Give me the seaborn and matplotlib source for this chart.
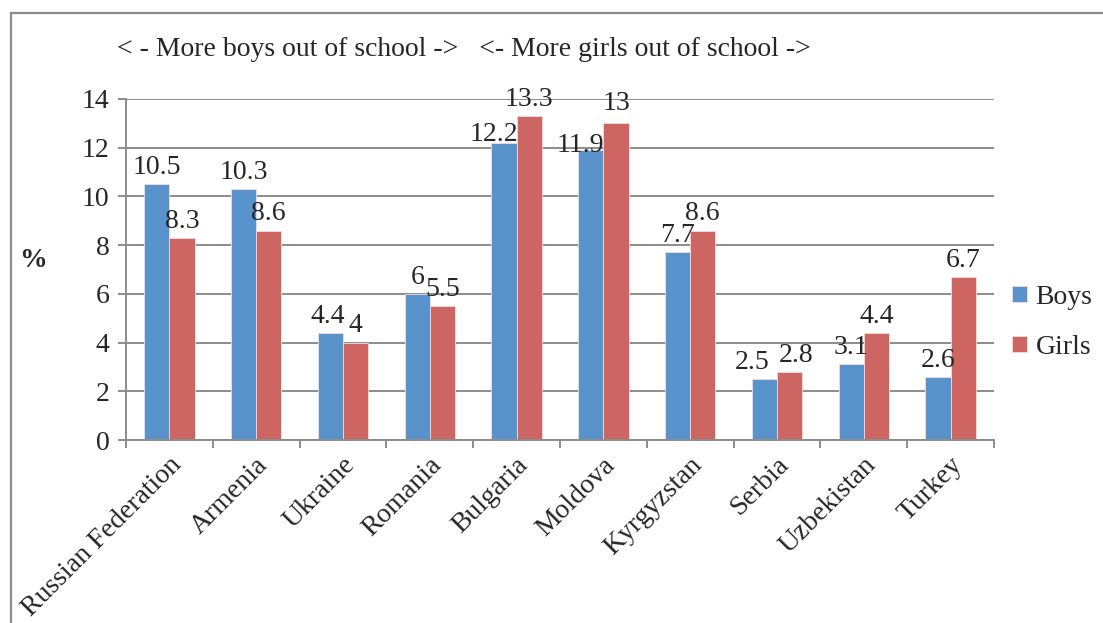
import numpy as np
import pandas as pd
import matplotlib
matplotlib.use("Agg")
import matplotlib.pyplot as plt
import matplotlib.transforms as mtransforms
from matplotlib.patches import Rectangle
import seaborn as sns

countries = ["Russian Federation", "Armenia", "Ukraine", "Romania", "Bulgaria",
             "Moldova", "Kyrgyzstan", "Serbia", "Uzbekistan", "Turkey"]
boys = [10.5, 10.3, 4.4, 6.0, 12.2, 11.9, 7.7, 2.5, 3.1, 2.6]
girls = [8.3, 8.6, 4.0, 5.5, 13.3, 13.0, 8.6, 2.8, 4.4, 6.7]
boys_text = ["10.5", "10.3", "4.4", "6", "12.2", "11.9", "7.7", "2.5", "3.1", "2.6"]
girls_text = ["8.3", "8.6", "4", "5.5", "13.3", "13", "8.6", "2.8", "4.4", "6.7"]
yticks = [0, 2, 4, 6, 8, 10, 12, 14]
title = "< - More boys out of school ->   <- More girls out of school ->"

df = pd.DataFrame({
    "country": countries * 2,
    "value": boys + girls,
    "sex": ["Boys"] * len(countries) + ["Girls"] * len(countries),
})

sns.set_theme(style="white")
plt.rcParams["font.family"] = ["Liberation Serif", "DejaVu Serif"]

blue = "#5893CC"
red = "#CD6662"
grid_c = "#8C8C8C"
fs = 20

fig = plt.figure(figsize=(11.03, 6.23), dpi=100)
ax = fig.add_axes([126 / 1103, 1 - 440 / 623, (994 - 126) / 1103, (440 - 99) / 623])

sns.barplot(data=df, x="country", y="value", hue="sex", order=countries,
            hue_order=["Boys", "Girls"], palette=[blue, red], saturation=1,
            width=0.58, gap=0, edgecolor="#F4DCDC", linewidth=0.6, ax=ax,
            legend=True)

ax.set_ylim(0, 14)
ax.set_xlim(-0.5, len(countries) - 0.5)
ax.set_yticks(yticks)
ax.set_yticklabels([str(t) for t in yticks], fontsize=fs)
ax.yaxis.grid(True, color=grid_c, linewidth=1.4)
ax.set_axisbelow(True)
for s in ["top", "right"]:
    ax.spines[s].set_visible(False)
for s in ["left", "bottom"]:
    ax.spines[s].set_color(grid_c)
    ax.spines[s].set_linewidth(1.4)
ax.tick_params(axis="y", which="major", length=6, width=1.4, color=grid_c,
               left=True, pad=6)

ax.set_xticks(np.arange(len(countries)))
ax.set_xticks(np.arange(-0.5, len(countries)), minor=True)
ax.tick_params(axis="x", which="major", length=0, pad=6)
ax.tick_params(axis="x", which="minor", length=6, width=1.4, color=grid_c, bottom=True)
offset = mtransforms.ScaledTranslation(8 / 100, -13 / 100, fig.dpi_scale_trans)
ax.set_xticklabels(countries, rotation=45, ha="right", va="center",
                   rotation_mode="anchor", fontsize=fs)
for lab in ax.get_xticklabels():
    lab.set_transform(lab.get_transform() + offset)

ax.set_xlabel("")
ax.set_ylabel("%", fontsize=fs, fontweight="bold", rotation=0, labelpad=0)
ax.yaxis.set_label_coords(-0.107, 0.49)

# data labels, with the small shifts (px) the original applied to avoid overlaps
shift = {("Boys", 4): (-10, -8), ("Boys", 5): (-10, -12), ("Girls", 5): (0, 3),
         ("Boys", 7): (-12, 0), ("Girls", 7): (6, 0), ("Boys", 2): (-3, 0)}
for i, c in enumerate(countries):
    for sex, vals, txt, dx in (("Boys", boys, boys_text, -0.145),
                              ("Girls", girls, girls_text, 0.145)):
        sx, sy = shift.get((sex, i), (0, 0))
        ax.annotate(txt[i], (i + dx, vals[i]), xytext=(sx * 0.72, 3 + sy * 0.72),
                    textcoords="offset points", ha="center", va="bottom",
                    fontsize=fs)

leg = ax.legend(loc="center left", bbox_to_anchor=(1.0, 0.345), frameon=False,
                fontsize=fs, handlelength=0.55, handleheight=0.55,
                labelspacing=0.9, handletextpad=0.3, borderaxespad=0.25)

fig.text(117 / 1103, 1 - 50 / 623, title, fontsize=fs, va="center", ha="left")

fig.patches.append(Rectangle((11 / 1103, -0.1), 1.2, 1 - 13 / 623 + 0.1,
                             transform=fig.transFigure, fill=False,
                             edgecolor="#8C8C8C", linewidth=1.6))

fig.savefig("out.png", dpi=100)
